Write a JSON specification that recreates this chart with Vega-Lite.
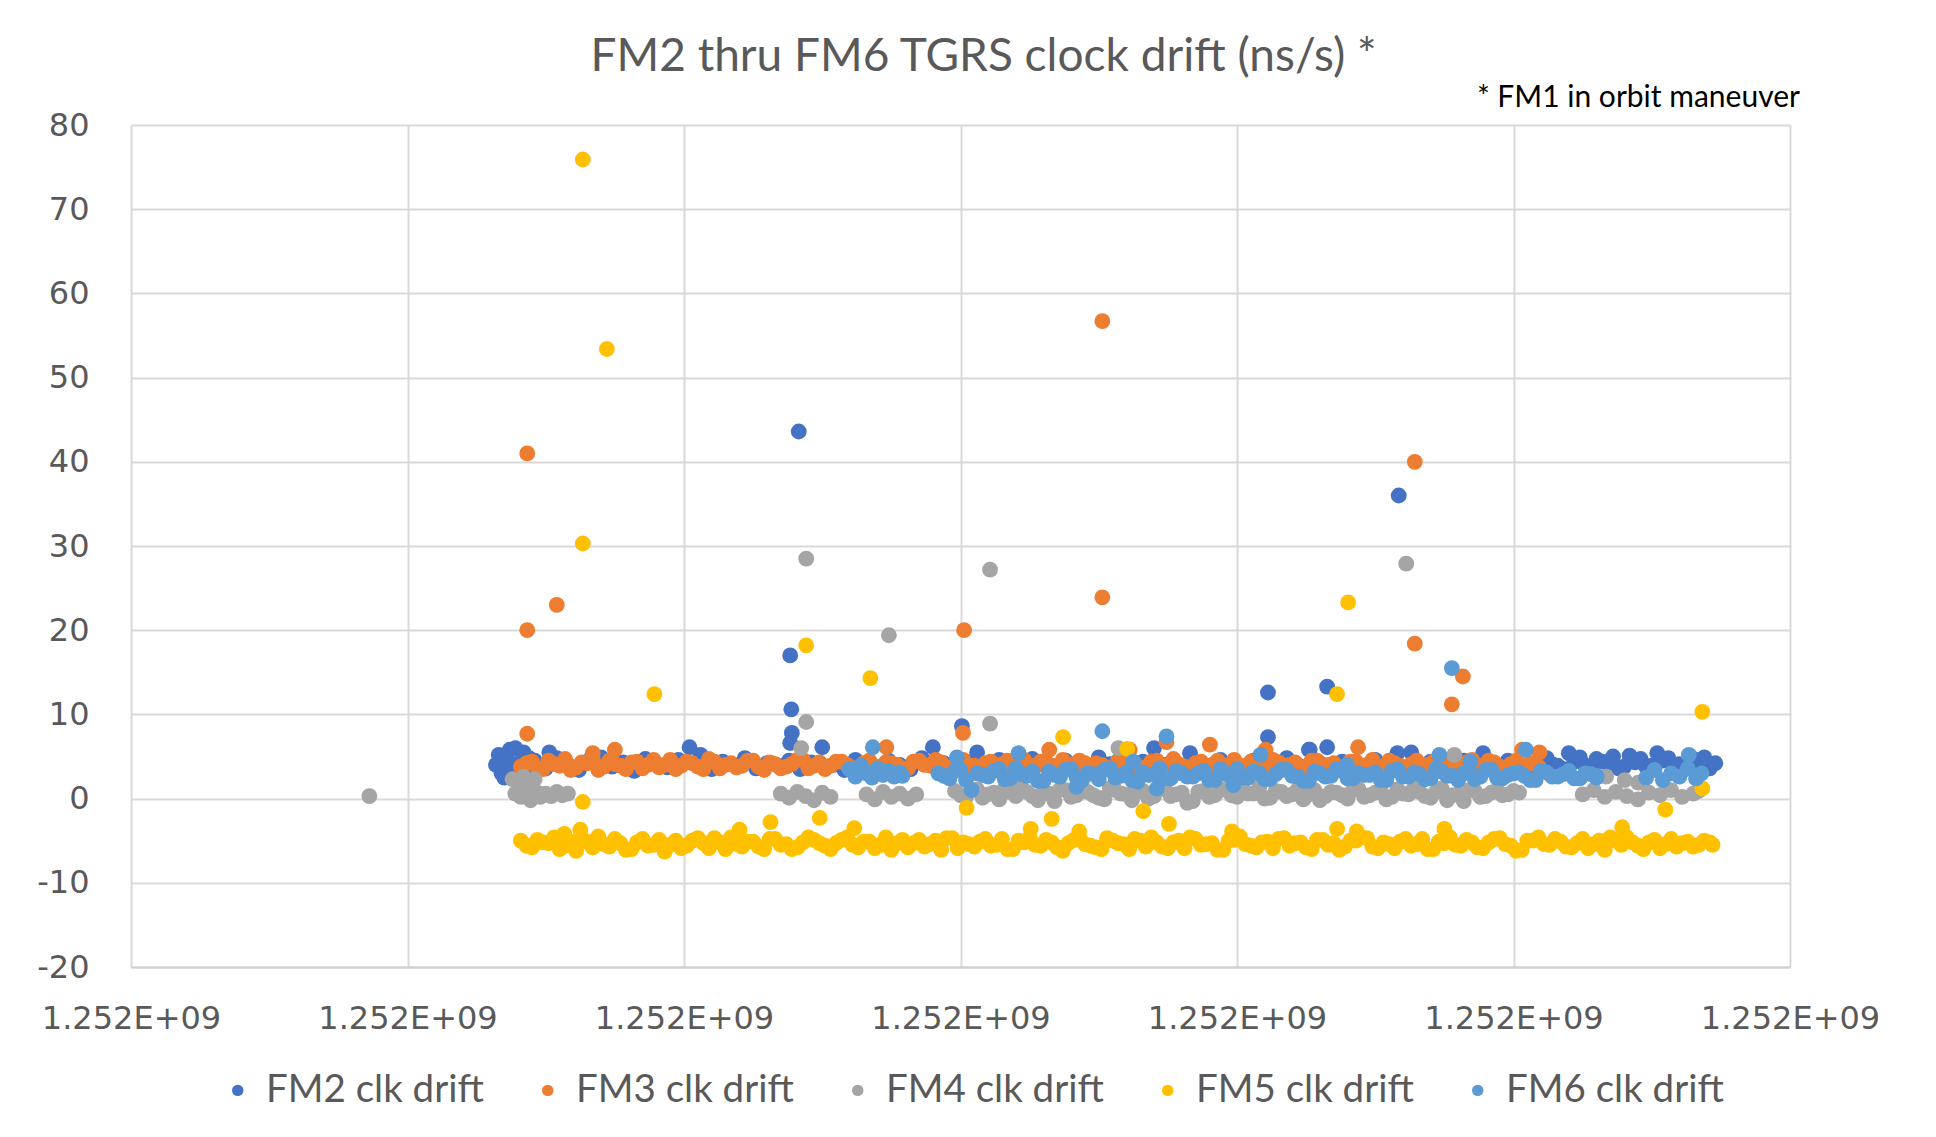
{
 "$schema": "https://vega.github.io/schema/vega-lite/v6.json",
 "width": 1659,
 "height": 842,
 "autosize": {"type": "none"},
 "padding": {"left": 131, "top": 125, "right": 146, "bottom": 170},
 "background": "white",
 "config": {"view": {"stroke": null}},
 "title": {"text": "FM2 thru FM6 TGRS clock drift (ns/s) *", "font": "Lato", "fontSize": 46, "fontWeight": "normal", "color": "#595959", "anchor": "middle", "dx": 23, "offset": 2},
 "layer": [
  {
   "data": {"values": [
{"s":"FM2","x":1251932000,"y":4.0},{"s":"FM2","x":1251933000,"y":5.2},{"s":"FM2","x":1251934000,"y":3.0},{"s":"FM2","x":1251935000,"y":2.5},{"s":"FM2","x":1251936000,"y":4.5},{"s":"FM2","x":1251937000,"y":5.8},{"s":"FM2","x":1251938000,"y":3.6},{"s":"FM2","x":1251939000,"y":6.0},{"s":"FM2","x":1251940000,"y":4.2},{"s":"FM2","x":1251941000,"y":2.8},{"s":"FM2","x":1251942000,"y":5.5},{"s":"FM2","x":1251943000,"y":3.3},{"s":"FM2","x":1251944000,"y":4.8},
{"s":"FM2","x":1251946000,"y":4.5},{"s":"FM2","x":1251950000,"y":3.6},{"s":"FM2","x":1251954000,"y":4.8},{"s":"FM2","x":1251958000,"y":4.0},{"s":"FM2","x":1251962000,"y":3.4},{"s":"FM2","x":1251966000,"y":4.6},{"s":"FM2","x":1251970000,"y":4.9},{"s":"FM2","x":1251974000,"y":3.8},{"s":"FM2","x":1251978000,"y":4.3},{"s":"FM2","x":1251982000,"y":3.3},{"s":"FM2","x":1251986000,"y":4.7},{"s":"FM2","x":1251990000,"y":4.1},{"s":"FM2","x":1251994000,"y":3.7},{"s":"FM2","x":1251998000,"y":4.6},{"s":"FM2","x":1252002000,"y":6.1},{"s":"FM2","x":1252006000,"y":5.2},{"s":"FM2","x":1252010000,"y":3.5},{"s":"FM2","x":1252014000,"y":4.4},{"s":"FM2","x":1252018000,"y":4.0},{"s":"FM2","x":1252022000,"y":4.8},{"s":"FM2","x":1252026000,"y":3.6},{"s":"FM2","x":1252030000,"y":4.2},{"s":"FM2","x":1252034000,"y":3.9},{"s":"FM2","x":1252038000,"y":4.5},{"s":"FM2","x":1252042000,"y":3.5},{"s":"FM2","x":1252046000,"y":4.3},{"s":"FM2","x":1252050000,"y":6.1},{"s":"FM2","x":1252054000,"y":4.0},{"s":"FM2","x":1252058000,"y":3.4},{"s":"FM2","x":1252062000,"y":4.6},{"s":"FM2","x":1252066000,"y":4.1},{"s":"FM2","x":1252070000,"y":3.7},{"s":"FM2","x":1252074000,"y":4.5},{"s":"FM2","x":1252078000,"y":4.0},{"s":"FM2","x":1252082000,"y":3.5},{"s":"FM2","x":1252086000,"y":4.8},{"s":"FM2","x":1252090000,"y":6.1},{"s":"FM2","x":1252094000,"y":4.2},{"s":"FM2","x":1252098000,"y":3.6},{"s":"FM2","x":1252102000,"y":4.4},{"s":"FM2","x":1252106000,"y":5.5},{"s":"FM2","x":1252110000,"y":3.9},{"s":"FM2","x":1252114000,"y":4.6},{"s":"FM2","x":1252118000,"y":4.1},{"s":"FM2","x":1252122000,"y":3.6},{"s":"FM2","x":1252126000,"y":4.7},{"s":"FM2","x":1252130000,"y":4.0},{"s":"FM2","x":1252134000,"y":3.7},{"s":"FM2","x":1252138000,"y":4.5},{"s":"FM2","x":1252142000,"y":4.2},{"s":"FM2","x":1252146000,"y":3.8},{"s":"FM2","x":1252150000,"y":4.9},{"s":"FM2","x":1252154000,"y":4.1},{"s":"FM2","x":1252158000,"y":4.3},{"s":"FM2","x":1252162000,"y":3.6},{"s":"FM2","x":1252166000,"y":4.4},{"s":"FM2","x":1252170000,"y":6.0},{"s":"FM2","x":1252174000,"y":4.0},{"s":"FM2","x":1252178000,"y":3.5},{"s":"FM2","x":1252183000,"y":5.4},{"s":"FM2","x":1252186000,"y":4.2},{"s":"FM2","x":1252190000,"y":3.8},{"s":"FM2","x":1252194000,"y":4.6},{"s":"FM2","x":1252198000,"y":4.0},{"s":"FM2","x":1252202000,"y":3.6},{"s":"FM2","x":1252206000,"y":4.5},{"s":"FM2","x":1252210000,"y":4.1},{"s":"FM2","x":1252214000,"y":3.7},{"s":"FM2","x":1252218000,"y":4.8},{"s":"FM2","x":1252222000,"y":4.0},{"s":"FM2","x":1252226000,"y":5.8},{"s":"FM2","x":1252230000,"y":4.2},{"s":"FM2","x":1252234000,"y":3.6},{"s":"FM2","x":1252238000,"y":4.4},{"s":"FM2","x":1252242000,"y":4.0},{"s":"FM2","x":1252246000,"y":3.7},{"s":"FM2","x":1252250000,"y":4.6},{"s":"FM2","x":1252254000,"y":4.1},{"s":"FM2","x":1252258000,"y":5.4},{"s":"FM2","x":1252263000,"y":5.5},{"s":"FM2","x":1252266000,"y":3.9},{"s":"FM2","x":1252270000,"y":4.4},{"s":"FM2","x":1252274000,"y":4.0},{"s":"FM2","x":1252278000,"y":3.6},{"s":"FM2","x":1252282000,"y":4.5},{"s":"FM2","x":1252286000,"y":4.1},{"s":"FM2","x":1252289000,"y":5.4},{"s":"FM2","x":1252294000,"y":3.8},{"s":"FM2","x":1252298000,"y":4.5},{"s":"FM2","x":1252302000,"y":4.0},{"s":"FM2","x":1252306000,"y":3.6},{"s":"FM2","x":1252310000,"y":4.6},{"s":"FM2","x":1252312000,"y":4.8},{"s":"FM2","x":1252314000,"y":4.1},{"s":"FM2","x":1252316000,"y":3.9},{"s":"FM2","x":1252318000,"y":3.5},{"s":"FM2","x":1252320000,"y":5.4},{"s":"FM2","x":1252322000,"y":4.4},{"s":"FM2","x":1252324000,"y":4.9},{"s":"FM2","x":1252326000,"y":3.9},{"s":"FM2","x":1252328000,"y":3.7},{"s":"FM2","x":1252330000,"y":4.7},{"s":"FM2","x":1252332000,"y":4.4},{"s":"FM2","x":1252334000,"y":4.2},{"s":"FM2","x":1252336000,"y":5.0},{"s":"FM2","x":1252338000,"y":3.6},{"s":"FM2","x":1252340000,"y":3.8},{"s":"FM2","x":1252342000,"y":5.1},{"s":"FM2","x":1252344000,"y":4.3},{"s":"FM2","x":1252346000,"y":4.7},{"s":"FM2","x":1252348000,"y":3.8},{"s":"FM2","x":1252350000,"y":3.9},{"s":"FM2","x":1252352000,"y":5.4},{"s":"FM2","x":1252354000,"y":4.5},{"s":"FM2","x":1252356000,"y":4.8},{"s":"FM2","x":1252358000,"y":4.0},{"s":"FM2","x":1252360000,"y":4.1},{"s":"FM2","x":1252362000,"y":3.5},{"s":"FM2","x":1252364000,"y":5.0},{"s":"FM2","x":1252366000,"y":4.6},{"s":"FM2","x":1252368000,"y":3.8},{"s":"FM2","x":1252369000,"y":4.9},{"s":"FM2","x":1252371000,"y":3.6},{"s":"FM2","x":1252373000,"y":4.2},
{"s":"FM2","x":1251951300,"y":5.5},{"s":"FM2","x":1252038400,"y":17.0},{"s":"FM2","x":1252038800,"y":10.6},{"s":"FM2","x":1252039000,"y":7.8},{"s":"FM2","x":1252038400,"y":6.6},{"s":"FM2","x":1252041500,"y":43.6},{"s":"FM2","x":1252100500,"y":8.6},{"s":"FM2","x":1252211200,"y":12.6},{"s":"FM2","x":1252211200,"y":7.3},{"s":"FM2","x":1252232600,"y":13.3},{"s":"FM2","x":1252232600,"y":6.1},{"s":"FM2","x":1252226300,"y":5.8},{"s":"FM2","x":1252258500,"y":36.0},
{"s":"FM3","x":1251941000,"y":3.8},{"s":"FM3","x":1251945000,"y":4.4},{"s":"FM3","x":1251949000,"y":3.5},{"s":"FM3","x":1251953000,"y":4.1},{"s":"FM3","x":1251957000,"y":4.7},{"s":"FM3","x":1251961000,"y":3.7},{"s":"FM3","x":1251965000,"y":4.2},{"s":"FM3","x":1251969000,"y":3.4},{"s":"FM3","x":1251973000,"y":4.5},{"s":"FM3","x":1251977000,"y":3.9},{"s":"FM3","x":1251981000,"y":4.3},{"s":"FM3","x":1251985000,"y":3.6},{"s":"FM3","x":1251989000,"y":4.6},{"s":"FM3","x":1251993000,"y":4.0},{"s":"FM3","x":1251997000,"y":3.5},{"s":"FM3","x":1252001000,"y":4.4},{"s":"FM3","x":1252005000,"y":3.8},{"s":"FM3","x":1252009000,"y":4.7},{"s":"FM3","x":1252013000,"y":3.6},{"s":"FM3","x":1252017000,"y":4.2},{"s":"FM3","x":1252021000,"y":3.9},{"s":"FM3","x":1252025000,"y":4.5},{"s":"FM3","x":1252029000,"y":3.4},{"s":"FM3","x":1252033000,"y":4.1},{"s":"FM3","x":1252037000,"y":3.8},{"s":"FM3","x":1252041000,"y":4.6},{"s":"FM3","x":1252045000,"y":3.6},{"s":"FM3","x":1252049000,"y":4.3},{"s":"FM3","x":1252053000,"y":3.9},{"s":"FM3","x":1252057000,"y":4.4},{"s":"FM3","x":1252061000,"y":3.5},{"s":"FM3","x":1252065000,"y":4.2},{"s":"FM3","x":1252069000,"y":3.8},{"s":"FM3","x":1252073000,"y":4.3},{"s":"FM3","x":1252077000,"y":4.0},{"s":"FM3","x":1252081000,"y":3.6},{"s":"FM3","x":1252085000,"y":4.5},{"s":"FM3","x":1252089000,"y":3.9},{"s":"FM3","x":1252093000,"y":4.3},{"s":"FM3","x":1252097000,"y":3.7},{"s":"FM3","x":1252101000,"y":4.6},{"s":"FM3","x":1252105000,"y":3.9},{"s":"FM3","x":1252109000,"y":4.2},{"s":"FM3","x":1252113000,"y":3.6},{"s":"FM3","x":1252117000,"y":4.5},{"s":"FM3","x":1252121000,"y":4.0},{"s":"FM3","x":1252125000,"y":3.7},{"s":"FM3","x":1252129000,"y":4.4},{"s":"FM3","x":1252133000,"y":3.9},{"s":"FM3","x":1252137000,"y":4.6},{"s":"FM3","x":1252141000,"y":3.8},{"s":"FM3","x":1252145000,"y":4.2},{"s":"FM3","x":1252149000,"y":4.2},{"s":"FM3","x":1252153000,"y":3.7},{"s":"FM3","x":1252157000,"y":4.5},{"s":"FM3","x":1252161000,"y":4.0},{"s":"FM3","x":1252165000,"y":3.6},{"s":"FM3","x":1252169000,"y":4.4},{"s":"FM3","x":1252173000,"y":3.9},{"s":"FM3","x":1252177000,"y":4.7},{"s":"FM3","x":1252181000,"y":3.8},{"s":"FM3","x":1252185000,"y":4.2},{"s":"FM3","x":1252189000,"y":3.6},{"s":"FM3","x":1252193000,"y":4.5},{"s":"FM3","x":1252197000,"y":4.0},{"s":"FM3","x":1252201000,"y":3.7},{"s":"FM3","x":1252205000,"y":4.4},{"s":"FM3","x":1252209000,"y":3.8},{"s":"FM3","x":1252213000,"y":4.6},{"s":"FM3","x":1252217000,"y":3.9},{"s":"FM3","x":1252221000,"y":4.3},{"s":"FM3","x":1252225000,"y":3.6},{"s":"FM3","x":1252229000,"y":4.5},{"s":"FM3","x":1252233000,"y":4.0},{"s":"FM3","x":1252237000,"y":3.7},{"s":"FM3","x":1252241000,"y":4.4},{"s":"FM3","x":1252245000,"y":3.9},{"s":"FM3","x":1252249000,"y":4.6},{"s":"FM3","x":1252253000,"y":3.8},{"s":"FM3","x":1252257000,"y":4.2},{"s":"FM3","x":1252261000,"y":3.6},{"s":"FM3","x":1252265000,"y":4.5},{"s":"FM3","x":1252269000,"y":4.0},{"s":"FM3","x":1252273000,"y":3.7},{"s":"FM3","x":1252277000,"y":4.4},{"s":"FM3","x":1252281000,"y":3.9},{"s":"FM3","x":1252285000,"y":4.6},{"s":"FM3","x":1252289000,"y":3.8},{"s":"FM3","x":1252293000,"y":4.3},{"s":"FM3","x":1252297000,"y":3.6},{"s":"FM3","x":1252301000,"y":4.5},{"s":"FM3","x":1252305000,"y":4.0},{"s":"FM3","x":1252309000,"y":3.8},
{"s":"FM3","x":1251943000,"y":4.2},{"s":"FM3","x":1251947000,"y":3.6},{"s":"FM3","x":1251951000,"y":4.5},{"s":"FM3","x":1251955000,"y":3.9},{"s":"FM3","x":1251959000,"y":3.4},{"s":"FM3","x":1251963000,"y":4.3},{"s":"FM3","x":1251967000,"y":4.7},{"s":"FM3","x":1251971000,"y":3.8},{"s":"FM3","x":1251975000,"y":4.1},{"s":"FM3","x":1251979000,"y":3.5},
{"s":"FM3","x":1251983000,"y":4.4},{"s":"FM3","x":1251987000,"y":4.0},{"s":"FM3","x":1251991000,"y":3.7},{"s":"FM3","x":1251995000,"y":4.6},{"s":"FM3","x":1251999000,"y":3.9},{"s":"FM3","x":1252003000,"y":4.2},{"s":"FM3","x":1252007000,"y":3.5},{"s":"FM3","x":1252011000,"y":4.4},{"s":"FM3","x":1252015000,"y":4.0},{"s":"FM3","x":1252019000,"y":3.7},
{"s":"FM3","x":1252023000,"y":4.5},{"s":"FM3","x":1252027000,"y":3.8},{"s":"FM3","x":1252031000,"y":4.3},{"s":"FM3","x":1252035000,"y":3.6},{"s":"FM3","x":1252039000,"y":4.1},{"s":"FM3","x":1252043000,"y":4.6},{"s":"FM3","x":1252047000,"y":3.9},{"s":"FM3","x":1252051000,"y":3.5},{"s":"FM3","x":1252055000,"y":4.4},{"s":"FM3","x":1252059000,"y":4.0},
{"s":"FM3","x":1252063000,"y":3.7},{"s":"FM3","x":1252067000,"y":4.5},{"s":"FM3","x":1252071000,"y":3.8},{"s":"FM3","x":1252075000,"y":4.2},{"s":"FM3","x":1252079000,"y":3.6},{"s":"FM3","x":1252083000,"y":4.4},{"s":"FM3","x":1252087000,"y":4.0},{"s":"FM3","x":1252091000,"y":4.6},{"s":"FM3","x":1252095000,"y":3.7},{"s":"FM3","x":1252099000,"y":4.2},
{"s":"FM3","x":1252103000,"y":3.9},{"s":"FM3","x":1252107000,"y":3.5},{"s":"FM3","x":1252111000,"y":4.4},{"s":"FM3","x":1252115000,"y":4.1},{"s":"FM3","x":1252119000,"y":3.8},{"s":"FM3","x":1252123000,"y":4.6},{"s":"FM3","x":1252127000,"y":3.9},{"s":"FM3","x":1252131000,"y":4.3},{"s":"FM3","x":1252135000,"y":3.6},{"s":"FM3","x":1252139000,"y":4.1},
{"s":"FM3","x":1252143000,"y":4.5},{"s":"FM3","x":1252147000,"y":3.8},{"s":"FM3","x":1252151000,"y":4.0},{"s":"FM3","x":1252155000,"y":3.6},{"s":"FM3","x":1252159000,"y":4.4},{"s":"FM3","x":1252163000,"y":4.2},{"s":"FM3","x":1252167000,"y":3.7},{"s":"FM3","x":1252171000,"y":4.5},{"s":"FM3","x":1252175000,"y":3.9},{"s":"FM3","x":1252179000,"y":4.1},
{"s":"FM3","x":1252183000,"y":3.6},{"s":"FM3","x":1252187000,"y":4.4},{"s":"FM3","x":1252191000,"y":4.0},{"s":"FM3","x":1252195000,"y":3.8},{"s":"FM3","x":1252199000,"y":4.6},{"s":"FM3","x":1252203000,"y":3.9},{"s":"FM3","x":1252207000,"y":4.2},{"s":"FM3","x":1252211000,"y":3.5},{"s":"FM3","x":1252215000,"y":4.3},{"s":"FM3","x":1252219000,"y":4.0},
{"s":"FM3","x":1252223000,"y":3.7},{"s":"FM3","x":1252227000,"y":4.5},{"s":"FM3","x":1252231000,"y":3.9},{"s":"FM3","x":1252235000,"y":4.2},{"s":"FM3","x":1252239000,"y":3.6},{"s":"FM3","x":1252243000,"y":4.4},{"s":"FM3","x":1252247000,"y":4.0},{"s":"FM3","x":1252251000,"y":3.8},{"s":"FM3","x":1252255000,"y":4.5},{"s":"FM3","x":1252259000,"y":3.9},
{"s":"FM3","x":1252263000,"y":4.1},{"s":"FM3","x":1252267000,"y":3.7},{"s":"FM3","x":1252271000,"y":4.4},{"s":"FM3","x":1252275000,"y":4.0},{"s":"FM3","x":1252279000,"y":3.6},{"s":"FM3","x":1252283000,"y":4.3},{"s":"FM3","x":1252287000,"y":3.9},{"s":"FM3","x":1252291000,"y":4.5},{"s":"FM3","x":1252295000,"y":3.8},{"s":"FM3","x":1252299000,"y":4.1},
{"s":"FM3","x":1252303000,"y":3.7},{"s":"FM3","x":1252307000,"y":4.2},
{"s":"FM3","x":1251943300,"y":41.0},{"s":"FM3","x":1251943300,"y":20.0},{"s":"FM3","x":1251954000,"y":23.0},{"s":"FM3","x":1251943300,"y":7.7},{"s":"FM3","x":1251967000,"y":5.4},{"s":"FM3","x":1251975000,"y":5.8},{"s":"FM3","x":1252073200,"y":6.1},{"s":"FM3","x":1252100900,"y":7.8},{"s":"FM3","x":1252101300,"y":20.0},{"s":"FM3","x":1252151300,"y":56.7},{"s":"FM3","x":1252151300,"y":23.9},{"s":"FM3","x":1252264300,"y":40.0},{"s":"FM3","x":1252264300,"y":18.4},{"s":"FM3","x":1252281700,"y":14.5},{"s":"FM3","x":1252277700,"y":11.2},{"s":"FM3","x":1252190200,"y":6.4},{"s":"FM3","x":1252243800,"y":6.1},{"s":"FM3","x":1252174500,"y":6.7},{"s":"FM3","x":1252132100,"y":5.8},{"s":"FM3","x":1252161200,"y":5.8},{"s":"FM3","x":1252210300,"y":5.8},{"s":"FM3","x":1252303100,"y":5.8},{"s":"FM3","x":1252309400,"y":5.5},
{"s":"FM4","x":1251886200,"y":0.3},
{"s":"FM4","x":1251938000,"y":2.3},{"s":"FM4","x":1251939000,"y":0.6},{"s":"FM4","x":1251940000,"y":1.0},{"s":"FM4","x":1251941000,"y":0.2},{"s":"FM4","x":1251942000,"y":2.6},{"s":"FM4","x":1251943000,"y":0.5},{"s":"FM4","x":1251944000,"y":1.2},{"s":"FM4","x":1251944500,"y":-0.2},{"s":"FM4","x":1251945000,"y":0.3},{"s":"FM4","x":1251946000,"y":2.3},{"s":"FM4","x":1251947000,"y":0.7},{"s":"FM4","x":1251948000,"y":0.2},{"s":"FM4","x":1251950000,"y":0.6},{"s":"FM4","x":1251952000,"y":0.3},{"s":"FM4","x":1251954000,"y":0.8},{"s":"FM4","x":1251956000,"y":0.4},{"s":"FM4","x":1251958000,"y":0.6},
{"s":"FM4","x":1252035000,"y":0.6},{"s":"FM4","x":1252038000,"y":0.1},{"s":"FM4","x":1252041000,"y":0.8},{"s":"FM4","x":1252044000,"y":0.3},{"s":"FM4","x":1252047000,"y":-0.2},{"s":"FM4","x":1252050000,"y":0.7},{"s":"FM4","x":1252053000,"y":0.2},
{"s":"FM4","x":1252066000,"y":0.5},{"s":"FM4","x":1252069000,"y":-0.1},{"s":"FM4","x":1252072000,"y":0.8},{"s":"FM4","x":1252075000,"y":0.2},{"s":"FM4","x":1252078000,"y":0.6},{"s":"FM4","x":1252081000,"y":0.0},{"s":"FM4","x":1252084000,"y":0.5},
{"s":"FM4","x":1252098000,"y":0.9},{"s":"FM4","x":1252102000,"y":0.2},{"s":"FM4","x":1252106000,"y":1.1},{"s":"FM4","x":1252110000,"y":0.5},{"s":"FM4","x":1252114000,"y":-0.1},{"s":"FM4","x":1252118000,"y":0.8},{"s":"FM4","x":1252122000,"y":1.3},{"s":"FM4","x":1252126000,"y":0.3},{"s":"FM4","x":1252130000,"y":0.7},{"s":"FM4","x":1252134000,"y":-0.3},{"s":"FM4","x":1252138000,"y":1.0},{"s":"FM4","x":1252142000,"y":0.4},{"s":"FM4","x":1252146000,"y":0.8},{"s":"FM4","x":1252150000,"y":0.1},{"s":"FM4","x":1252154000,"y":1.2},{"s":"FM4","x":1252158000,"y":0.6},{"s":"FM4","x":1252162000,"y":-0.2},{"s":"FM4","x":1252166000,"y":0.9},{"s":"FM4","x":1252170000,"y":0.3},{"s":"FM4","x":1252174000,"y":1.1},{"s":"FM4","x":1252178000,"y":0.5},{"s":"FM4","x":1252182000,"y":-0.5},{"s":"FM4","x":1252186000,"y":0.8},{"s":"FM4","x":1252190000,"y":0.2},{"s":"FM4","x":1252194000,"y":1.0},{"s":"FM4","x":1252198000,"y":0.4},{"s":"FM4","x":1252202000,"y":1.4},{"s":"FM4","x":1252206000,"y":0.6},{"s":"FM4","x":1252210000,"y":0.0},{"s":"FM4","x":1252214000,"y":0.9},{"s":"FM4","x":1252218000,"y":0.3},{"s":"FM4","x":1252222000,"y":1.1},{"s":"FM4","x":1252226000,"y":0.5},{"s":"FM4","x":1252230000,"y":-0.2},{"s":"FM4","x":1252234000,"y":0.8},{"s":"FM4","x":1252238000,"y":0.4},{"s":"FM4","x":1252242000,"y":1.0},{"s":"FM4","x":1252246000,"y":0.2},{"s":"FM4","x":1252250000,"y":0.7},{"s":"FM4","x":1252254000,"y":-0.1},{"s":"FM4","x":1252258000,"y":1.1},{"s":"FM4","x":1252262000,"y":0.5},{"s":"FM4","x":1252266000,"y":0.8},{"s":"FM4","x":1252270000,"y":0.1},{"s":"FM4","x":1252274000,"y":1.2},{"s":"FM4","x":1252278000,"y":0.4},{"s":"FM4","x":1252282000,"y":-0.3},{"s":"FM4","x":1252286000,"y":0.9},{"s":"FM4","x":1252290000,"y":0.3},{"s":"FM4","x":1252294000,"y":1.0},{"s":"FM4","x":1252298000,"y":0.5},{"s":"FM4","x":1252302000,"y":0.7},
{"s":"FM4","x":1252100000,"y":0.4},{"s":"FM4","x":1252104000,"y":1.0},{"s":"FM4","x":1252108000,"y":0.1},{"s":"FM4","x":1252112000,"y":0.7},{"s":"FM4","x":1252116000,"y":1.2},{"s":"FM4","x":1252120000,"y":0.3},{"s":"FM4","x":1252124000,"y":0.8},{"s":"FM4","x":1252128000,"y":-0.2},{"s":"FM4","x":1252132000,"y":0.6},{"s":"FM4","x":1252136000,"y":1.1},
{"s":"FM4","x":1252140000,"y":0.2},{"s":"FM4","x":1252144000,"y":0.9},{"s":"FM4","x":1252148000,"y":0.4},{"s":"FM4","x":1252152000,"y":-0.1},{"s":"FM4","x":1252156000,"y":1.0},{"s":"FM4","x":1252160000,"y":0.5},{"s":"FM4","x":1252164000,"y":0.8},{"s":"FM4","x":1252168000,"y":0.0},{"s":"FM4","x":1252172000,"y":1.2},{"s":"FM4","x":1252176000,"y":0.3},
{"s":"FM4","x":1252180000,"y":0.7},{"s":"FM4","x":1252184000,"y":-0.3},{"s":"FM4","x":1252188000,"y":0.9},{"s":"FM4","x":1252192000,"y":0.4},{"s":"FM4","x":1252196000,"y":1.1},{"s":"FM4","x":1252200000,"y":0.2},{"s":"FM4","x":1252204000,"y":0.6},{"s":"FM4","x":1252208000,"y":1.3},{"s":"FM4","x":1252212000,"y":0.1},{"s":"FM4","x":1252216000,"y":0.8},
{"s":"FM4","x":1252220000,"y":0.5},{"s":"FM4","x":1252224000,"y":-0.1},{"s":"FM4","x":1252228000,"y":1.0},{"s":"FM4","x":1252232000,"y":0.3},{"s":"FM4","x":1252236000,"y":0.7},{"s":"FM4","x":1252240000,"y":0.0},{"s":"FM4","x":1252244000,"y":1.1},{"s":"FM4","x":1252248000,"y":0.4},{"s":"FM4","x":1252252000,"y":0.9},{"s":"FM4","x":1252256000,"y":0.2},
{"s":"FM4","x":1252260000,"y":0.6},{"s":"FM4","x":1252264000,"y":1.2},{"s":"FM4","x":1252268000,"y":0.3},{"s":"FM4","x":1252272000,"y":0.8},{"s":"FM4","x":1252276000,"y":-0.2},{"s":"FM4","x":1252280000,"y":0.5},{"s":"FM4","x":1252284000,"y":1.0},{"s":"FM4","x":1252288000,"y":0.2},{"s":"FM4","x":1252292000,"y":0.7},{"s":"FM4","x":1252296000,"y":0.4},
{"s":"FM4","x":1252300000,"y":0.9},
{"s":"FM4","x":1252325000,"y":0.5},{"s":"FM4","x":1252329000,"y":1.0},{"s":"FM4","x":1252333000,"y":0.2},{"s":"FM4","x":1252337000,"y":0.8},{"s":"FM4","x":1252341000,"y":0.3},{"s":"FM4","x":1252345000,"y":-0.1},{"s":"FM4","x":1252349000,"y":0.7},{"s":"FM4","x":1252353000,"y":0.4},{"s":"FM4","x":1252357000,"y":1.0},{"s":"FM4","x":1252361000,"y":0.2},{"s":"FM4","x":1252365000,"y":0.6},{"s":"FM4","x":1252367000,"y":0.9},
{"s":"FM4","x":1252044200,"y":28.5},{"s":"FM4","x":1252044200,"y":9.1},{"s":"FM4","x":1252042400,"y":6.0},{"s":"FM4","x":1252074100,"y":19.4},{"s":"FM4","x":1252110700,"y":27.2},{"s":"FM4","x":1252110700,"y":8.9},{"s":"FM4","x":1252157100,"y":6.0},{"s":"FM4","x":1252261200,"y":27.9},{"s":"FM4","x":1252278600,"y":5.2},{"s":"FM4","x":1252333500,"y":2.6},{"s":"FM4","x":1252340200,"y":2.2},{"s":"FM4","x":1252345100,"y":1.9},
{"s":"FM5","x":1251941000,"y":-5.0},{"s":"FM5","x":1251945000,"y":-5.8},{"s":"FM5","x":1251949000,"y":-5.2},{"s":"FM5","x":1251953000,"y":-4.6},{"s":"FM5","x":1251957000,"y":-5.6},{"s":"FM5","x":1251961000,"y":-6.2},{"s":"FM5","x":1251965000,"y":-5.1},{"s":"FM5","x":1251969000,"y":-4.5},{"s":"FM5","x":1251973000,"y":-5.7},{"s":"FM5","x":1251977000,"y":-5.3},{"s":"FM5","x":1251981000,"y":-6.0},{"s":"FM5","x":1251985000,"y":-4.8},{"s":"FM5","x":1251989000,"y":-5.5},{"s":"FM5","x":1251993000,"y":-6.3},{"s":"FM5","x":1251997000,"y":-5.0},{"s":"FM5","x":1252001000,"y":-5.6},{"s":"FM5","x":1252005000,"y":-4.7},{"s":"FM5","x":1252009000,"y":-5.9},{"s":"FM5","x":1252013000,"y":-5.2},{"s":"FM5","x":1252017000,"y":-4.6},{"s":"FM5","x":1252021000,"y":-5.7},{"s":"FM5","x":1252025000,"y":-5.1},{"s":"FM5","x":1252029000,"y":-6.0},{"s":"FM5","x":1252033000,"y":-4.8},{"s":"FM5","x":1252037000,"y":-5.4},{"s":"FM5","x":1252041000,"y":-5.8},{"s":"FM5","x":1252045000,"y":-4.6},{"s":"FM5","x":1252049000,"y":-5.3},{"s":"FM5","x":1252053000,"y":-6.0},{"s":"FM5","x":1252057000,"y":-4.9},{"s":"FM5","x":1252061000,"y":-5.5},{"s":"FM5","x":1252065000,"y":-5.1},{"s":"FM5","x":1252069000,"y":-5.9},{"s":"FM5","x":1252073000,"y":-4.6},{"s":"FM5","x":1252077000,"y":-5.3},{"s":"FM5","x":1252081000,"y":-5.8},{"s":"FM5","x":1252085000,"y":-4.9},{"s":"FM5","x":1252089000,"y":-5.4},{"s":"FM5","x":1252093000,"y":-6.1},{"s":"FM5","x":1252097000,"y":-4.7},{"s":"FM5","x":1252101000,"y":-5.2},{"s":"FM5","x":1252105000,"y":-5.7},{"s":"FM5","x":1252109000,"y":-4.8},{"s":"FM5","x":1252113000,"y":-5.5},{"s":"FM5","x":1252117000,"y":-6.0},{"s":"FM5","x":1252121000,"y":-5.0},{"s":"FM5","x":1252125000,"y":-4.6},{"s":"FM5","x":1252129000,"y":-5.6},{"s":"FM5","x":1252133000,"y":-5.2},{"s":"FM5","x":1252137000,"y":-6.2},{"s":"FM5","x":1252141000,"y":-4.9},{"s":"FM5","x":1252145000,"y":-5.4},{"s":"FM5","x":1252149000,"y":-5.8},{"s":"FM5","x":1252153000,"y":-4.7},{"s":"FM5","x":1252157000,"y":-5.3},{"s":"FM5","x":1252161000,"y":-6.0},{"s":"FM5","x":1252165000,"y":-5.0},{"s":"FM5","x":1252169000,"y":-4.6},{"s":"FM5","x":1252173000,"y":-5.7},{"s":"FM5","x":1252177000,"y":-5.2},{"s":"FM5","x":1252181000,"y":-5.9},{"s":"FM5","x":1252185000,"y":-4.8},{"s":"FM5","x":1252189000,"y":-5.4},{"s":"FM5","x":1252193000,"y":-6.1},{"s":"FM5","x":1252197000,"y":-5.0},{"s":"FM5","x":1252201000,"y":-4.5},{"s":"FM5","x":1252205000,"y":-5.6},{"s":"FM5","x":1252209000,"y":-5.2},{"s":"FM5","x":1252213000,"y":-5.9},{"s":"FM5","x":1252217000,"y":-4.7},{"s":"FM5","x":1252221000,"y":-5.3},{"s":"FM5","x":1252225000,"y":-5.8},{"s":"FM5","x":1252229000,"y":-4.9},{"s":"FM5","x":1252233000,"y":-5.5},{"s":"FM5","x":1252237000,"y":-6.1},{"s":"FM5","x":1252241000,"y":-5.0},{"s":"FM5","x":1252245000,"y":-4.6},{"s":"FM5","x":1252249000,"y":-5.7},{"s":"FM5","x":1252253000,"y":-5.2},{"s":"FM5","x":1252257000,"y":-5.9},{"s":"FM5","x":1252261000,"y":-4.8},{"s":"FM5","x":1252265000,"y":-5.4},{"s":"FM5","x":1252269000,"y":-6.0},{"s":"FM5","x":1252273000,"y":-5.1},{"s":"FM5","x":1252277000,"y":-4.6},{"s":"FM5","x":1252281000,"y":-5.6},{"s":"FM5","x":1252285000,"y":-5.2},{"s":"FM5","x":1252289000,"y":-5.9},{"s":"FM5","x":1252293000,"y":-4.8},{"s":"FM5","x":1252297000,"y":-5.4},{"s":"FM5","x":1252301000,"y":-6.2},{"s":"FM5","x":1252305000,"y":-5.0},{"s":"FM5","x":1252309000,"y":-4.6},{"s":"FM5","x":1252313000,"y":-5.5},{"s":"FM5","x":1252317000,"y":-5.1},{"s":"FM5","x":1252321000,"y":-5.8},{"s":"FM5","x":1252325000,"y":-4.8},{"s":"FM5","x":1252329000,"y":-5.4},{"s":"FM5","x":1252333000,"y":-6.1},{"s":"FM5","x":1252337000,"y":-5.0},{"s":"FM5","x":1252341000,"y":-4.6},{"s":"FM5","x":1252345000,"y":-5.6},{"s":"FM5","x":1252349000,"y":-5.2},{"s":"FM5","x":1252353000,"y":-5.9},{"s":"FM5","x":1252357000,"y":-4.8},{"s":"FM5","x":1252361000,"y":-5.3},{"s":"FM5","x":1252365000,"y":-5.7},{"s":"FM5","x":1252369000,"y":-5.0},{"s":"FM5","x":1252372000,"y":-5.5},
{"s":"FM5","x":1251943000,"y":-5.6},{"s":"FM5","x":1251947000,"y":-4.9},{"s":"FM5","x":1251951000,"y":-5.3},{"s":"FM5","x":1251955000,"y":-6.0},{"s":"FM5","x":1251959000,"y":-5.1},{"s":"FM5","x":1251963000,"y":-4.7},{"s":"FM5","x":1251967000,"y":-5.8},{"s":"FM5","x":1251971000,"y":-5.4},{"s":"FM5","x":1251975000,"y":-4.8},{"s":"FM5","x":1251979000,"y":-6.1},
{"s":"FM5","x":1251983000,"y":-5.2},{"s":"FM5","x":1251987000,"y":-5.6},{"s":"FM5","x":1251991000,"y":-4.9},{"s":"FM5","x":1251995000,"y":-5.5},{"s":"FM5","x":1251999000,"y":-5.9},{"s":"FM5","x":1252003000,"y":-5.0},{"s":"FM5","x":1252007000,"y":-5.3},{"s":"FM5","x":1252011000,"y":-4.7},{"s":"FM5","x":1252015000,"y":-6.0},{"s":"FM5","x":1252019000,"y":-5.4},
{"s":"FM5","x":1252023000,"y":-5.1},{"s":"FM5","x":1252027000,"y":-5.7},{"s":"FM5","x":1252031000,"y":-4.8},{"s":"FM5","x":1252035000,"y":-5.5},{"s":"FM5","x":1252039000,"y":-6.0},{"s":"FM5","x":1252043000,"y":-5.2},{"s":"FM5","x":1252047000,"y":-4.9},{"s":"FM5","x":1252051000,"y":-5.6},{"s":"FM5","x":1252055000,"y":-5.3},{"s":"FM5","x":1252059000,"y":-4.6},
{"s":"FM5","x":1252063000,"y":-5.8},{"s":"FM5","x":1252067000,"y":-5.1},{"s":"FM5","x":1252071000,"y":-5.5},{"s":"FM5","x":1252075000,"y":-6.1},{"s":"FM5","x":1252079000,"y":-4.9},{"s":"FM5","x":1252083000,"y":-5.3},{"s":"FM5","x":1252087000,"y":-5.7},{"s":"FM5","x":1252091000,"y":-5.0},{"s":"FM5","x":1252095000,"y":-4.7},{"s":"FM5","x":1252099000,"y":-5.9},
{"s":"FM5","x":1252103000,"y":-5.4},{"s":"FM5","x":1252107000,"y":-5.1},{"s":"FM5","x":1252111000,"y":-5.6},{"s":"FM5","x":1252115000,"y":-4.8},{"s":"FM5","x":1252119000,"y":-6.0},{"s":"FM5","x":1252123000,"y":-5.2},{"s":"FM5","x":1252127000,"y":-5.5},{"s":"FM5","x":1252131000,"y":-4.9},{"s":"FM5","x":1252135000,"y":-5.8},{"s":"FM5","x":1252139000,"y":-5.3},
{"s":"FM5","x":1252143000,"y":-4.7},{"s":"FM5","x":1252147000,"y":-5.6},{"s":"FM5","x":1252151000,"y":-6.0},{"s":"FM5","x":1252155000,"y":-5.0},{"s":"FM5","x":1252159000,"y":-5.4},{"s":"FM5","x":1252163000,"y":-4.8},{"s":"FM5","x":1252167000,"y":-5.7},{"s":"FM5","x":1252171000,"y":-5.2},{"s":"FM5","x":1252175000,"y":-5.9},{"s":"FM5","x":1252179000,"y":-5.0},
{"s":"FM5","x":1252183000,"y":-4.6},{"s":"FM5","x":1252187000,"y":-5.5},{"s":"FM5","x":1252191000,"y":-5.3},{"s":"FM5","x":1252195000,"y":-6.1},{"s":"FM5","x":1252199000,"y":-4.9},{"s":"FM5","x":1252203000,"y":-5.4},{"s":"FM5","x":1252207000,"y":-5.8},{"s":"FM5","x":1252211000,"y":-5.1},{"s":"FM5","x":1252215000,"y":-4.8},{"s":"FM5","x":1252219000,"y":-5.6},
{"s":"FM5","x":1252223000,"y":-5.2},{"s":"FM5","x":1252227000,"y":-6.0},{"s":"FM5","x":1252231000,"y":-4.9},{"s":"FM5","x":1252235000,"y":-5.3},{"s":"FM5","x":1252239000,"y":-5.7},{"s":"FM5","x":1252243000,"y":-5.0},{"s":"FM5","x":1252247000,"y":-4.7},{"s":"FM5","x":1252251000,"y":-5.9},{"s":"FM5","x":1252255000,"y":-5.4},{"s":"FM5","x":1252259000,"y":-5.1},
{"s":"FM5","x":1252263000,"y":-5.6},{"s":"FM5","x":1252267000,"y":-4.8},{"s":"FM5","x":1252271000,"y":-6.0},{"s":"FM5","x":1252275000,"y":-5.3},{"s":"FM5","x":1252279000,"y":-5.5},{"s":"FM5","x":1252283000,"y":-4.9},{"s":"FM5","x":1252287000,"y":-5.8},{"s":"FM5","x":1252291000,"y":-5.2},{"s":"FM5","x":1252295000,"y":-4.7},{"s":"FM5","x":1252299000,"y":-5.6},
{"s":"FM5","x":1252303000,"y":-6.1},{"s":"FM5","x":1252307000,"y":-5.0},{"s":"FM5","x":1252311000,"y":-5.4},{"s":"FM5","x":1252315000,"y":-4.8},{"s":"FM5","x":1252319000,"y":-5.7},{"s":"FM5","x":1252323000,"y":-5.3},{"s":"FM5","x":1252327000,"y":-5.9},{"s":"FM5","x":1252331000,"y":-5.0},{"s":"FM5","x":1252335000,"y":-4.6},{"s":"FM5","x":1252339000,"y":-5.5},
{"s":"FM5","x":1252343000,"y":-5.2},{"s":"FM5","x":1252347000,"y":-6.0},{"s":"FM5","x":1252351000,"y":-4.9},{"s":"FM5","x":1252355000,"y":-5.4},{"s":"FM5","x":1252359000,"y":-5.7},{"s":"FM5","x":1252363000,"y":-5.1},{"s":"FM5","x":1252367000,"y":-5.5},{"s":"FM5","x":1252371000,"y":-5.2},
{"s":"FM5","x":1251963400,"y":75.9},{"s":"FM5","x":1251972100,"y":53.4},{"s":"FM5","x":1251963400,"y":30.3},{"s":"FM5","x":1251989300,"y":12.4},{"s":"FM5","x":1251963400,"y":-0.4},{"s":"FM5","x":1251962500,"y":-3.7},{"s":"FM5","x":1251956700,"y":-4.2},{"s":"FM5","x":1252020100,"y":-3.7},{"s":"FM5","x":1252031300,"y":-2.8},{"s":"FM5","x":1252044200,"y":18.2},{"s":"FM5","x":1252049100,"y":-2.3},{"s":"FM5","x":1252061600,"y":-3.5},{"s":"FM5","x":1252067400,"y":14.3},{"s":"FM5","x":1252102200,"y":-1.1},{"s":"FM5","x":1252125400,"y":-3.6},{"s":"FM5","x":1252133000,"y":-2.4},{"s":"FM5","x":1252137100,"y":7.3},{"s":"FM5","x":1252142900,"y":-3.9},{"s":"FM5","x":1252160300,"y":5.9},{"s":"FM5","x":1252166100,"y":-1.5},{"s":"FM5","x":1252175400,"y":-3.0},{"s":"FM5","x":1252198200,"y":-3.9},{"s":"FM5","x":1252236200,"y":-3.6},{"s":"FM5","x":1252236200,"y":12.4},{"s":"FM5","x":1252240200,"y":23.3},{"s":"FM5","x":1252243300,"y":-3.9},{"s":"FM5","x":1252275000,"y":-3.6},{"s":"FM5","x":1252339300,"y":-3.4},{"s":"FM5","x":1252354900,"y":-1.3},{"s":"FM5","x":1252368300,"y":1.2},{"s":"FM5","x":1252368300,"y":10.3},
{"s":"FM6","x":1252059800,"y":3.5},{"s":"FM6","x":1252062000,"y":2.6},{"s":"FM6","x":1252064000,"y":3.9},{"s":"FM6","x":1252066000,"y":3.0},{"s":"FM6","x":1252068000,"y":2.5},{"s":"FM6","x":1252070000,"y":3.6},{"s":"FM6","x":1252072000,"y":2.8},{"s":"FM6","x":1252074000,"y":3.3},{"s":"FM6","x":1252076000,"y":2.6},{"s":"FM6","x":1252078000,"y":3.1},{"s":"FM6","x":1252079000,"y":2.7},{"s":"FM6","x":1252068300,"y":6.1},
{"s":"FM6","x":1252092000,"y":3.0},{"s":"FM6","x":1252096000,"y":2.4},{"s":"FM6","x":1252100000,"y":3.4},{"s":"FM6","x":1252104000,"y":1.0},{"s":"FM6","x":1252108000,"y":2.8},{"s":"FM6","x":1252112000,"y":3.3},{"s":"FM6","x":1252116000,"y":2.3},{"s":"FM6","x":1252120000,"y":3.6},{"s":"FM6","x":1252124000,"y":2.7},{"s":"FM6","x":1252128000,"y":2.1},{"s":"FM6","x":1252132000,"y":3.2},{"s":"FM6","x":1252136000,"y":2.6},{"s":"FM6","x":1252140000,"y":3.5},{"s":"FM6","x":1252144000,"y":2.2},{"s":"FM6","x":1252148000,"y":2.9},{"s":"FM6","x":1252152000,"y":3.4},{"s":"FM6","x":1252156000,"y":2.5},{"s":"FM6","x":1252160000,"y":3.1},{"s":"FM6","x":1252164000,"y":2.0},{"s":"FM6","x":1252168000,"y":2.8},{"s":"FM6","x":1252172000,"y":3.6},{"s":"FM6","x":1252176000,"y":2.4},{"s":"FM6","x":1252180000,"y":3.0},{"s":"FM6","x":1252184000,"y":2.6},{"s":"FM6","x":1252188000,"y":3.3},{"s":"FM6","x":1252192000,"y":2.2},{"s":"FM6","x":1252196000,"y":2.9},{"s":"FM6","x":1252200000,"y":3.5},{"s":"FM6","x":1252204000,"y":2.5},{"s":"FM6","x":1252208000,"y":3.0},{"s":"FM6","x":1252212000,"y":2.3},{"s":"FM6","x":1252216000,"y":3.4},{"s":"FM6","x":1252220000,"y":2.7},{"s":"FM6","x":1252224000,"y":2.1},{"s":"FM6","x":1252228000,"y":3.2},{"s":"FM6","x":1252232000,"y":2.6},{"s":"FM6","x":1252236000,"y":3.5},{"s":"FM6","x":1252240000,"y":2.4},{"s":"FM6","x":1252244000,"y":3.0},{"s":"FM6","x":1252248000,"y":2.8},{"s":"FM6","x":1252252000,"y":2.2},{"s":"FM6","x":1252256000,"y":3.3},{"s":"FM6","x":1252260000,"y":2.6},{"s":"FM6","x":1252264000,"y":3.1},{"s":"FM6","x":1252268000,"y":2.3},{"s":"FM6","x":1252272000,"y":3.5},{"s":"FM6","x":1252276000,"y":2.7},{"s":"FM6","x":1252280000,"y":2.2},{"s":"FM6","x":1252284000,"y":3.2},{"s":"FM6","x":1252288000,"y":2.6},{"s":"FM6","x":1252292000,"y":3.4},{"s":"FM6","x":1252296000,"y":2.4},{"s":"FM6","x":1252300000,"y":3.0},{"s":"FM6","x":1252304000,"y":2.7},{"s":"FM6","x":1252308000,"y":2.2},{"s":"FM6","x":1252312000,"y":3.1},{"s":"FM6","x":1252316000,"y":2.6},{"s":"FM6","x":1252320000,"y":3.3},{"s":"FM6","x":1252324000,"y":2.4},{"s":"FM6","x":1252328000,"y":2.9},{"s":"FM6","x":1252330000,"y":2.5},
{"s":"FM6","x":1252094000,"y":2.7},{"s":"FM6","x":1252098000,"y":3.3},{"s":"FM6","x":1252102000,"y":2.2},{"s":"FM6","x":1252106000,"y":3.0},{"s":"FM6","x":1252110000,"y":2.6},{"s":"FM6","x":1252114000,"y":3.5},{"s":"FM6","x":1252118000,"y":2.4},{"s":"FM6","x":1252122000,"y":2.9},{"s":"FM6","x":1252126000,"y":3.2},{"s":"FM6","x":1252130000,"y":2.1},
{"s":"FM6","x":1252134000,"y":2.8},{"s":"FM6","x":1252138000,"y":3.4},{"s":"FM6","x":1252142000,"y":2.5},{"s":"FM6","x":1252146000,"y":3.0},{"s":"FM6","x":1252150000,"y":2.3},{"s":"FM6","x":1252154000,"y":3.6},{"s":"FM6","x":1252158000,"y":2.7},{"s":"FM6","x":1252162000,"y":2.2},{"s":"FM6","x":1252166000,"y":3.1},{"s":"FM6","x":1252170000,"y":2.9},
{"s":"FM6","x":1252174000,"y":2.4},{"s":"FM6","x":1252178000,"y":3.3},{"s":"FM6","x":1252182000,"y":2.6},{"s":"FM6","x":1252186000,"y":3.0},{"s":"FM6","x":1252190000,"y":2.2},{"s":"FM6","x":1252194000,"y":3.5},{"s":"FM6","x":1252198000,"y":2.8},{"s":"FM6","x":1252202000,"y":2.5},{"s":"FM6","x":1252206000,"y":3.2},{"s":"FM6","x":1252210000,"y":2.3},
{"s":"FM6","x":1252214000,"y":2.9},{"s":"FM6","x":1252218000,"y":3.4},{"s":"FM6","x":1252222000,"y":2.6},{"s":"FM6","x":1252226000,"y":2.1},{"s":"FM6","x":1252230000,"y":3.0},{"s":"FM6","x":1252234000,"y":2.7},{"s":"FM6","x":1252238000,"y":3.3},{"s":"FM6","x":1252242000,"y":2.4},{"s":"FM6","x":1252246000,"y":2.8},{"s":"FM6","x":1252250000,"y":3.1},
{"s":"FM6","x":1252254000,"y":2.2},{"s":"FM6","x":1252258000,"y":3.5},{"s":"FM6","x":1252262000,"y":2.6},{"s":"FM6","x":1252266000,"y":2.9},{"s":"FM6","x":1252270000,"y":2.4},{"s":"FM6","x":1252274000,"y":3.2},{"s":"FM6","x":1252278000,"y":2.7},{"s":"FM6","x":1252282000,"y":3.0},{"s":"FM6","x":1252286000,"y":2.3},{"s":"FM6","x":1252290000,"y":3.4},
{"s":"FM6","x":1252294000,"y":2.5},{"s":"FM6","x":1252298000,"y":2.8},{"s":"FM6","x":1252302000,"y":3.1},{"s":"FM6","x":1252306000,"y":2.2},{"s":"FM6","x":1252310000,"y":3.3},{"s":"FM6","x":1252314000,"y":2.6},{"s":"FM6","x":1252318000,"y":2.9},{"s":"FM6","x":1252322000,"y":2.4},{"s":"FM6","x":1252326000,"y":3.0},{"s":"FM6","x":1252330000,"y":2.7},
{"s":"FM6","x":1252098700,"y":4.9},{"s":"FM6","x":1252151300,"y":8.0},{"s":"FM6","x":1252174500,"y":7.4},{"s":"FM6","x":1252277700,"y":15.5},{"s":"FM6","x":1252304500,"y":5.8},{"s":"FM6","x":1252121000,"y":5.4},{"s":"FM6","x":1252162500,"y":4.4},{"s":"FM6","x":1252208500,"y":5.2},{"s":"FM6","x":1252239800,"y":4.0},{"s":"FM6","x":1252273200,"y":5.2},{"s":"FM6","x":1252284400,"y":4.4},{"s":"FM6","x":1252141900,"y":1.4},{"s":"FM6","x":1252171000,"y":1.2},{"s":"FM6","x":1252198700,"y":1.6},
{"s":"FM6","x":1252348000,"y":2.5},{"s":"FM6","x":1252351000,"y":3.4},{"s":"FM6","x":1252354000,"y":2.2},{"s":"FM6","x":1252357000,"y":3.0},{"s":"FM6","x":1252360000,"y":2.6},{"s":"FM6","x":1252363000,"y":3.6},{"s":"FM6","x":1252366000,"y":2.4},{"s":"FM6","x":1252368000,"y":3.0},{"s":"FM6","x":1252363400,"y":5.2}
   ]},
   "mark": {"type": "circle", "size": 250, "opacity": 1},
   "encoding": {
    "x": {"field": "x", "type": "quantitative", "scale": {"domain": [1251800000, 1252400000], "nice": false, "zero": false},
          "axis": {"title": null, "values": [1251800000, 1251900000, 1252000000, 1252100000, 1252200000, 1252300000, 1252400000], "labelExpr": "replace(format(datum.value, '.3e'), 'e+', 'E+0')", "labelFont": "DejaVu Sans", "labelFontSize": 32, "labelColor": "#595959", "ticks": false, "labelPadding": 36, "grid": true, "gridColor": "#D9D9D9", "gridWidth": 2, "domainColor": "#D0D0D0", "domainWidth": 2, "labelFlush": false, "labelOverlap": false}},
    "y": {"field": "y", "type": "quantitative", "scale": {"domain": [-20, 80], "nice": false, "zero": false},
          "axis": {"title": null, "values": [-20, -10, 0, 10, 20, 30, 40, 50, 60, 70, 80], "labelExpr": "replace(datum.label, '\u2212', '-')", "labelFont": "DejaVu Sans", "labelFontSize": 32, "labelColor": "#595959", "ticks": false, "labelPadding": 42, "grid": true, "gridColor": "#D9D9D9", "gridWidth": 2, "domain": false, "labelFlush": false, "labelOverlap": false}},
    "color": {"field": "s", "type": "nominal",
              "scale": {"domain": ["FM2", "FM3", "FM4", "FM5", "FM6"], "range": ["#4472C4", "#ED7D31", "#A5A5A5", "#FFC000", "#5B9BD5"]},
              "legend": {"title": null, "orient": "none", "legendX": 87.5, "legendY": 946, "direction": "horizontal", "columns": 5, "labelExpr": "datum.label + ' clk drift'", "labelFont": "Lato", "labelFontSize": 38.5, "labelColor": "#595959", "labelLimit": 500, "symbolType": "circle", "symbolSize": 130, "labelOffset": 9, "columnPadding": 44, "padding": 0}}
   }
  },
  {
   "data": {"values": [{"note": "* FM1 in orbit maneuver"}]},
   "mark": {"type": "text", "align": "right", "baseline": "alphabetic", "font": "Lato", "fontSize": 30, "color": "black"},
   "encoding": {
    "x": {"datum": 1252403600, "type": "quantitative"},
    "y": {"datum": 82.1, "type": "quantitative"},
    "text": {"field": "note"}
   }
  }
 ]
}
